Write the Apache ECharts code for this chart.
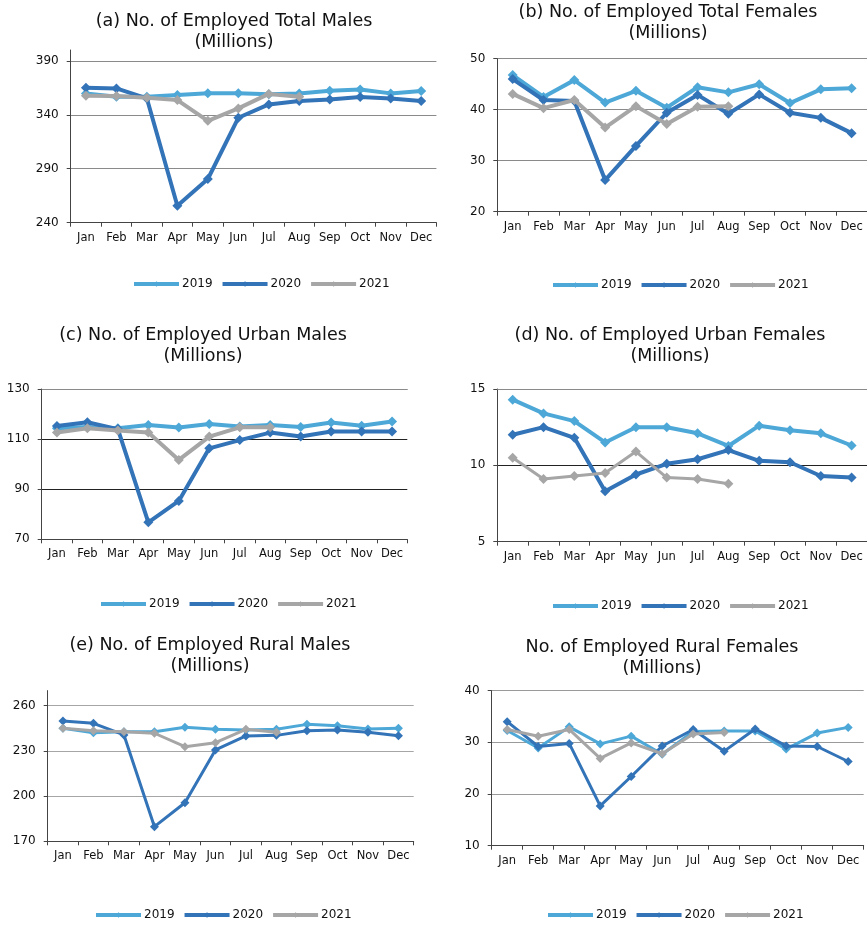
<!DOCTYPE html>
<html>
<head>
<meta charset="utf-8">
<script src="https://cdn.jsdelivr.net/npm/echarts@6/dist/echarts.min.js"></script>
<style>
html,body{margin:0;padding:0;background:#fff;}
#chart{width:867px;height:925px;}
</style>
</head>
<body>
<div id="chart"></div>
<script>
const months = ['Jan','Feb','Mar','Apr','May','Jun','Jul','Aug','Sep','Oct','Nov','Dec'];
const years = ['2019','2020','2021'];

// (a) Total Males
const totalMales2019 = [359.8, 356.7, 356.7, 358.2, 360.0, 360.0, 359.0, 359.8, 362.3, 363.5, 359.8, 362.0];
const totalMales2020 = [365.0, 364.4, 355.1, 255.7, 280.5, 337.2, 349.6, 352.7, 354.2, 356.4, 355.1, 352.7];
const totalMales2021 = [357.6, 357.3, 355.7, 353.6, 334.4, 345.9, 359.3, 356.7, null, null, null, null];

// (b) Total Females
const totalFemales2019 = [46.8, 42.5, 45.8, 41.4, 43.7, 40.4, 44.4, 43.4, 45.0, 41.3, 44.0, 44.2];
const totalFemales2020 = [46.0, 41.9, 41.7, 26.2, 32.9, 39.4, 42.9, 39.2, 43.0, 39.4, 38.4, 35.4];
const totalFemales2021 = [43.1, 40.3, 41.9, 36.5, 40.7, 37.2, 40.6, 40.7, null, null, null, null];

// (c) Urban Males
const urbanMales2019 = [114.3, 114.8, 114.3, 115.6, 114.6, 116.0, 115.0, 115.6, 114.8, 116.6, 115.3, 117.0];
const urbanMales2020 = [115.2, 116.7, 114.0, 76.8, 85.3, 106.3, 109.6, 112.6, 111.0, 113.0, 113.0, 113.0];
const urbanMales2021 = [112.6, 114.3, 113.4, 112.6, 101.7, 111.0, 114.7, 114.7, null, null, null, null];

// (d) Urban Females
const urbanFemales2019 = [14.3, 13.4, 12.9, 11.5, 12.5, 12.5, 12.1, 11.27, 12.6, 12.3, 12.1, 11.3];
const urbanFemales2020 = [12.0, 12.5, 11.8, 8.3, 9.4, 10.1, 10.4, 11.0, 10.3, 10.2, 9.3, 9.2];
const urbanFemales2021 = [10.5, 9.1, 9.3, 9.5, 10.9, 9.2, 9.1, 8.8, null, null, null, null];

// (e) Rural Males
const ruralMales2019 = [245.0, 242.1, 242.7, 242.7, 245.7, 244.3, 243.9, 244.3, 247.6, 246.7, 244.5, 245.0];
const ruralMales2020 = [249.8, 248.3, 240.6, 179.7, 195.6, 230.6, 239.9, 240.3, 243.4, 243.9, 242.3, 240.1];
const ruralMales2021 = [245.0, 243.4, 242.7, 241.7, 232.8, 235.4, 244.3, 242.3, null, null, null, null];

// (f) Rural Females
const ruralFemales2019 = [32.3, 28.9, 33.0, 29.7, 31.2, 27.7, 32.1, 32.2, 32.2, 28.7, 31.8, 32.9];
const ruralFemales2020 = [34.0, 29.2, 29.8, 17.7, 23.4, 29.3, 32.5, 28.3, 32.6, 29.3, 29.2, 26.3];
const ruralFemales2021 = [32.5, 31.2, 32.5, 26.9, 29.9, 27.8, 31.6, 31.9, null, null, null, null];

const titles = [
  '(a) No. of Employed Total Males\n(Millions)',
  '(b) No. of Employed Total Females\n(Millions)',
  '(c) No. of Employed Urban Males\n(Millions)',
  '(d) No. of Employed Urban Females\n(Millions)',
  '(e) No. of Employed Rural Males\n(Millions)',
  'No. of Employed Rural Females\n(Millions)'
];

const panelData = [
  [totalMales2019, totalMales2020, totalMales2021],
  [totalFemales2019, totalFemales2020, totalFemales2021],
  [urbanMales2019, urbanMales2020, urbanMales2021],
  [urbanFemales2019, urbanFemales2020, urbanFemales2021],
  [ruralMales2019, ruralMales2020, ruralMales2021],
  [ruralFemales2019, ruralFemales2020, ruralFemales2021]
];

const FONT = 'DejaVu Sans';
const colors = ['#4DA8D8', '#3373B7', '#A6A6A6'];

const panels = [
  {grid:{left:70.7, top:50, width:365.7, height:172.7}, y:{min:240, max:400, interval:50}, split:'#8a8a8a', hideMax:true, title:{x:234, y:11}, legend:{left:127, top:273}, lw:[4,4,4], ss:10},
  {grid:{left:497.3, top:58.7, width:373.8, height:153}, y:{min:20, max:50, interval:10}, split:'#8a8a8a', title:{x:668, y:2}, legend:{left:546, top:274}, lw:[4,4,4], ss:10},
  {grid:{left:41.7, top:389, width:365.6, height:150.3}, y:{min:70, max:130, interval:20}, split:'#222222', topLine:'#8a8a8a', title:{x:203, y:325}, legend:{left:94, top:593}, lw:[4,4,4], ss:10},
  {grid:{left:497.3, top:389, width:373.8, height:152.7}, y:{min:5, max:15, interval:5}, split:'#222222', topLine:'#8a8a8a', title:{x:670, y:325}, legend:{left:546, top:595}, lw:[4,4,3], ss:10},
  {grid:{left:47.7, top:690.6, width:366, height:150.7}, y:{min:170, max:270, interval:30}, split:'#a6a6a6', hideMax:true, title:{x:210, y:635}, legend:{left:89, top:904}, lw:[3,3,3], ss:9},
  {grid:{left:491.7, top:690.7, width:372, height:155}, y:{min:10, max:40, interval:10}, split:'#9a9a9a', title:{x:662, y:637}, legend:{left:541, top:904}, lw:[3,3,3], ss:9}
];

const option = {
  animation: false,
  backgroundColor: '#ffffff',
  textStyle: {fontFamily: FONT},
  grid: [], xAxis: [], yAxis: [], series: [], legend: [], graphic: []
};

panels.forEach((p, i) => {
  option.grid.push(Object.assign({containLabel:false}, p.grid));
  option.xAxis.push({
    type:'category', gridIndex:i, data:months, boundaryGap:true,
    axisLine:{show:true, lineStyle:{color:'#444', width:1}},
    axisTick:{show:true, interval:0, length:4, lineStyle:{color:'#444'}},
    axisLabel:{interval:0, fontSize:11.5, fontFamily:FONT, color:'#111', margin:9},
    splitLine:{show:false}
  });
  option.yAxis.push({
    type:'value', gridIndex:i, min:p.y.min, max:p.y.max, interval:p.y.interval,
    axisLine:{show:true, lineStyle:{color:'#444', width:1}},
    axisTick:{show:true, length:4, lineStyle:{color:'#444'}},
    axisLabel:{fontSize:12, fontFamily:FONT, color:'#111', margin:12, showMaxLabel: p.hideMax ? false : true},
    splitLine:{show:true, showMinLine:false, showMaxLine: p.topLine || p.hideMax ? false : true, lineStyle:{color:p.split, width:1.2}}
  });
  if (p.topLine) {
    option.xAxis.push({
      type:'category', gridIndex:i, data:months, position:'top',
      axisLine:{show:true, lineStyle:{color:p.topLine, width:1.2}},
      axisTick:{show:false}, axisLabel:{show:false}, splitLine:{show:false}
    });
  }
});

let xIdx = [];
{
  let k = 0;
  panels.forEach((p) => { xIdx.push(k); k += p.topLine ? 2 : 1; });
}

panels.forEach((p, i) => {
  years.forEach((yr, j) => {
    option.series.push({
      type:'line', name:yr, xAxisIndex:xIdx[i], yAxisIndex:i,
      data: panelData[i][j],
      symbol:'diamond', symbolSize:p.ss, showSymbol:true, showAllSymbol:true,
      lineStyle:{color:colors[j], width:p.lw[j]},
      itemStyle:{color:colors[j]},
      connectNulls:false, z: 2 + j
    });
  });
  option.legend.push({
    data: years, left:p.legend.left, top:p.legend.top, orient:'horizontal',
    itemWidth:45, itemHeight:7, itemGap:8,
    lineStyle:{width:4},
    textStyle:{fontSize:12, fontFamily:FONT, color:'#111', padding:[0,0,0,-2]},
    selectedMode:false
  });
  option.graphic.push({
    type:'text', x:p.title.x, y:p.title.y,
    style:{text:titles[i], textAlign:'center', textVerticalAlign:'top', font:'17.5px "DejaVu Sans"', lineHeight:21, fill:'#111'}
  });
});

const chart = echarts.init(document.getElementById('chart'), null, {renderer:'canvas'});
chart.setOption(option);
</script>
</body>
</html>
